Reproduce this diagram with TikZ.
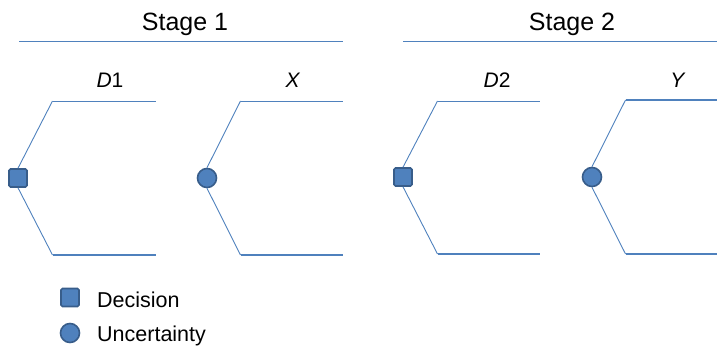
\documentclass[tikz,border=0pt]{standalone}
\usepackage{fontspec}
\setmainfont{Liberation Sans}
\definecolor{lineblue}{HTML}{4F81BD}
\definecolor{edgeblue}{HTML}{385D8A}
\begin{document}
\begin{tikzpicture}[x=1pt,y=-1pt,
  decnode/.style={draw=edgeblue,fill=lineblue,line width=1.6pt,rounded corners=1.5pt,minimum size=18pt,inner sep=0pt},
  uncnode/.style={circle,draw=edgeblue,fill=lineblue,line width=1.6pt,minimum size=19pt,inner sep=0pt},
  branch/.style={draw=lineblue,line width=0.9pt},
  endline/.style={draw=lineblue,line width=1.4pt},
  rule/.style={draw=lineblue,line width=0.9pt},
  stagetext/.style={font=\fontsize{25}{30}\selectfont,inner sep=0pt,anchor=base},
  labtext/.style={font=\fontsize{21}{25}\selectfont,inner sep=0pt,anchor=base},
  legtext/.style={font=\fontsize{21.5}{26}\selectfont,inner sep=0pt,anchor=base west}]
\useasboundingbox (0,0) rectangle (717,348);
% stage headings
\node[stagetext] (st1) at (185,30) {Stage 1};
\node[stagetext] (st2) at (572,30) {Stage 2};
\coordinate (r1a) at (19,41); \coordinate (r1b) at (343,41);
\coordinate (r2a) at (403,41); \coordinate (r2b) at (717,41);
\draw[rule] (r1a) -- (r1b);
\draw[rule] (r2a) -- (r2b);
% labels
\node[labtext] (l1) at (110,87) {\textit{D}1};
\node[labtext] (l2) at (293,87) {\textit{X}};
\node[labtext] (l3) at (497,87) {\textit{D}2};
\node[labtext] (l4) at (678,87) {\textit{Y}};
% tree 1
\coordinate (t1u) at (52.5,101); \coordinate (t1ue) at (156,101);
\coordinate (t1d) at (52.5,255); \coordinate (t1de) at (156,255);
\node[decnode] (d1) at (18,178) {};
\draw[branch] (d1.north) -- (t1u); \draw[branch] (t1u) -- (t1ue);
\draw[branch] (d1.south) -- (t1d); \draw[endline] (t1d) -- (t1de);
% tree 2
\coordinate (t2u) at (240.5,101); \coordinate (t2ue) at (343,101);
\coordinate (t2d) at (240.5,255); \coordinate (t2de) at (343,255);
\node[uncnode] (x) at (207,178) {};
\draw[branch] (x.north) -- (t2u); \draw[branch] (t2u) -- (t2ue);
\draw[branch] (x.south) -- (t2d); \draw[endline] (t2d) -- (t2de);
% tree 3
\coordinate (t3u) at (437.5,101); \coordinate (t3ue) at (540,101);
\coordinate (t3d) at (437.5,254); \coordinate (t3de) at (540,254);
\node[decnode] (d2) at (403,177) {};
\draw[branch] (d2.north) -- (t3u); \draw[branch] (t3u) -- (t3ue);
\draw[branch] (d2.south) -- (t3d); \draw[endline] (t3d) -- (t3de);
% tree 4
\coordinate (t4u) at (625.5,100); \coordinate (t4ue) at (717,100);
\coordinate (t4d) at (625.5,254); \coordinate (t4de) at (717,254);
\node[uncnode] (y) at (592,177) {};
\draw[branch] (y.north) -- (t4u); \draw[endline] (t4u) -- (t4ue);
\draw[branch] (y.south) -- (t4d); \draw[endline] (t4d) -- (t4de);
% legend
\node[decnode] (lgd) at (70,297.5) {};
\node[uncnode] (lgu) at (70,333) {};
\node[legtext] (lgdt) at (97,307) {Decision};
\node[legtext] (lgut) at (97,341.5) {Uncertainty};
\end{tikzpicture}
\end{document}
